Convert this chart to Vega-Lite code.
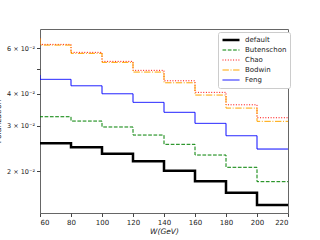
{
  "$schema": "https://vega.github.io/schema/vega-lite/v6.json",
  "width": 248,
  "height": 184,
  "autosize": {"type": "none"},
  "padding": {"left": 40, "top": 29, "right": 32, "bottom": 27},
  "background": "white",
  "config": {
    "view": {"stroke": "#666", "strokeWidth": 1},
    "font": "DejaVu Sans",
    "axis": {"labelFont": "DejaVu Sans", "titleFont": "DejaVu Sans", "labelColor": "#222", "tickColor": "#444", "grid": false, "domain": false}
  },
  "data": {"values": [
    {"series": "default", "W": 60, "v": 0.0259},
    {"series": "default", "W": 80, "v": 0.02568},
    {"series": "default", "W": 100, "v": 0.02478},
    {"series": "default", "W": 120, "v": 0.02340},
    {"series": "default", "W": 140, "v": 0.02187},
    {"series": "default", "W": 160, "v": 0.02011},
    {"series": "default", "W": 180, "v": 0.01829},
    {"series": "default", "W": 200, "v": 0.01652},
    {"series": "default", "W": 220, "v": 0.01481},
    {"series": "Butenschon", "W": 60, "v": 0.03276},
    {"series": "Butenschon", "W": 80, "v": 0.03256},
    {"series": "Butenschon", "W": 100, "v": 0.03133},
    {"series": "Butenschon", "W": 120, "v": 0.02971},
    {"series": "Butenschon", "W": 140, "v": 0.02765},
    {"series": "Butenschon", "W": 160, "v": 0.02545},
    {"series": "Butenschon", "W": 180, "v": 0.02313},
    {"series": "Butenschon", "W": 200, "v": 0.02073},
    {"series": "Butenschon", "W": 220, "v": 0.01823},
    {"series": "Chao", "W": 60, "v": 0.0656},
    {"series": "Chao", "W": 80, "v": 0.06214},
    {"series": "Chao", "W": 100, "v": 0.05787},
    {"series": "Chao", "W": 120, "v": 0.05340},
    {"series": "Chao", "W": 140, "v": 0.04928},
    {"series": "Chao", "W": 160, "v": 0.04490},
    {"series": "Chao", "W": 180, "v": 0.04048},
    {"series": "Chao", "W": 200, "v": 0.03623},
    {"series": "Chao", "W": 220, "v": 0.03227},
    {"series": "Bodwin", "W": 60, "v": 0.0656},
    {"series": "Bodwin", "W": 80, "v": 0.06175},
    {"series": "Bodwin", "W": 100, "v": 0.05735},
    {"series": "Bodwin", "W": 120, "v": 0.05292},
    {"series": "Bodwin", "W": 140, "v": 0.04853},
    {"series": "Bodwin", "W": 160, "v": 0.04410},
    {"series": "Bodwin", "W": 180, "v": 0.03952},
    {"series": "Bodwin", "W": 200, "v": 0.03518},
    {"series": "Bodwin", "W": 220, "v": 0.03125},
    {"series": "Feng", "W": 60, "v": 0.04724},
    {"series": "Feng", "W": 80, "v": 0.04547},
    {"series": "Feng", "W": 100, "v": 0.04294},
    {"series": "Feng", "W": 120, "v": 0.03998},
    {"series": "Feng", "W": 140, "v": 0.03702},
    {"series": "Feng", "W": 160, "v": 0.03387},
    {"series": "Feng", "W": 180, "v": 0.03069},
    {"series": "Feng", "W": 200, "v": 0.02748},
    {"series": "Feng", "W": 220, "v": 0.02440}
  ]},
  "mark": {"type": "line", "interpolate": "step-before", "clip": true},
  "encoding": {
    "x": {
      "field": "W", "type": "quantitative",
      "scale": {"domain": [60, 220], "nice": false, "zero": false},
      "axis": {"values": [60, 80, 100, 120, 140, 160, 180, 200, 220], "labelFontSize": 7, "tickSize": 3.5, "labelPadding": 2,
        "title": "W(GeV)", "titleFontStyle": "italic", "titleFontWeight": "normal", "titleFontSize": 7.5, "titlePadding": 2, "titleColor": "#222"}
    },
    "y": {
      "field": "v", "type": "quantitative",
      "scale": {"type": "log", "domain": [0.01378, 0.0713], "nice": false, "zero": false},
      "axis": {"values": [0.02, 0.03, 0.04, 0.05, 0.06], "labelFontSize": 6.5, "tickSize": 3.5, "labelPadding": 2,
        "labelExpr": "round(datum.value*100) == 5 ? '' : round(datum.value*100) + ' × 10⁻²'",
        "title": "Polarization", "titleFontWeight": "normal", "titleFontSize": 7.5, "titleColor": "#222",
        "titleAngle": -90, "titleX": -38, "titleY": 92, "titleBaseline": "bottom", "titleAlign": "center"}
    },
    "color": {
      "field": "series", "type": "nominal",
      "scale": {"domain": ["default", "Butenschon", "Chao", "Bodwin", "Feng"], "range": ["#000000", "#008000", "#ff0000", "#ffa500", "#0000ff"]},
      "legend": {"orient": "none", "legendX": 178, "legendY": 3, "title": null, "symbolType": "stroke", "symbolSize": 289,
        "fillColor": "white", "strokeColor": "#ccc", "padding": 3, "cornerRadius": 2, "labelFontSize": 7, "labelFont": "DejaVu Sans",
        "labelColor": "#222", "clipHeight": 10, "rowPadding": 0, "labelOffset": 4}
    },
    "strokeDash": {
      "field": "series", "type": "nominal",
      "scale": {"domain": ["default", "Butenschon", "Chao", "Bodwin", "Feng"], "range": [[1, 0], [3.7, 1.6], [1, 1.65], [6.4, 1.6, 1, 1.6], [1, 0]]},
      "legend": {"orient": "none", "legendX": 178, "legendY": 3, "title": null}
    },
    "strokeWidth": {
      "field": "series", "type": "nominal",
      "scale": {"type": "ordinal", "domain": ["default", "Butenschon", "Chao", "Bodwin", "Feng"], "range": [2.5, 1, 1, 1, 1]},
      "legend": {"orient": "none", "legendX": 178, "legendY": 3, "title": null}
    }
  }
}
